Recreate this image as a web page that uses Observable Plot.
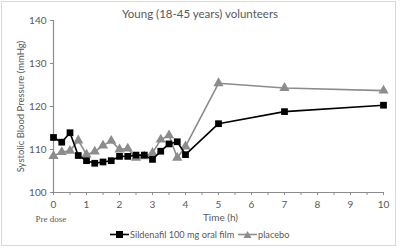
<!DOCTYPE html>
<html><head><meta charset="utf-8">
<script src="https://cdn.jsdelivr.net/npm/d3@7"></script>
<script src="https://cdn.jsdelivr.net/npm/@observablehq/plot@0.6"></script>
<style>
html,body{margin:0;padding:0;background:#fff;}
#wrap{position:relative;width:400px;height:249px;overflow:hidden;font-family:Lato,"Noto Sans",sans-serif;color:#595959;}
#frame{position:absolute;left:1px;top:1px;width:395px;height:245px;border:1px solid #d9d9d9;box-sizing:border-box;}
#title{position:absolute;left:0;width:400px;top:7px;text-align:center;font-size:11.5px;}
#chart{position:absolute;left:0;top:0;}
#legend{position:absolute;top:228px;left:0;width:400px;font-size:9.2px;}
.item{position:absolute;display:flex;align-items:center;white-space:nowrap;}
</style></head>
<body><div id="wrap"><div id="frame"></div><div id="chart"></div><div id="title">Young (18-45 years) volunteers</div><div id="legend"></div></div>
<script>
const time = [0,0.25,0.5,0.75,1,1.25,1.5,1.75,2,2.25,2.5,2.75,3,3.25,3.5,3.75,4,5,7,10];
const sildenafil = [112.8,111.7,113.9,108.6,107.4,106.8,107.1,107.4,108.4,108.4,108.7,108.7,107.7,109.6,111.3,111.8,108.8,116,118.8,120.3];
const placebo = [108.5,109.4,109.7,112.1,108.8,109.5,110.9,112,110,110.2,108.1,108.4,109.2,112.3,113.3,108.1,110.7,125.4,124.3,123.7];
const seriesNames = ["Sildenafil 100 mg oral film","placebo"];
const yTicks = [100,110,120,130,140];

const rows = [];
time.forEach((t,i)=>{rows.push({t,v:sildenafil[i],s:seriesNames[0]});rows.push({t,v:placebo[i],s:seriesNames[1]});});
const sil = rows.filter(d=>d.s===seriesNames[0]);
const pla = rows.filter(d=>d.s===seriesNames[1]);
const axisCol = "#8c8c8c", textCol = "#595959";

const chart = Plot.plot({
  width:400, height:249,
  marginLeft:53, marginRight:17, marginTop:20, marginBottom:57,
  style:{fontFamily:"Lato, 'Noto Sans', sans-serif", fontSize:"10px", color:textCol, background:"transparent"},
  x:{domain:[0,10]},
  y:{domain:[100,140]},
  marks:[
    Plot.ruleY([100],{stroke:axisCol,strokeWidth:1.2}),
    Plot.ruleX([0],{stroke:axisCol,strokeWidth:1.2}),
    Plot.axisX(d3.range(0,10.5,0.5),{tickSize:3,stroke:axisCol,tickFormat:d=>Number.isInteger(d)?d:"",tickPadding:5,fill:textCol,label:null}),
    Plot.axisY(yTicks,{tickSize:3,stroke:axisCol,tickPadding:4,fill:textCol,label:null}),
    Plot.text(["Systolic Blood Pressure (mmHg)"],{frameAnchor:"left",textAnchor:"middle",rotate:-90,dx:-33,fill:textCol,fontSize:9.5}),
    Plot.text(["Time (h)"],{frameAnchor:"bottom",dx:2,dy:28,fill:textCol,fontSize:10}),
    Plot.text(["Pre dose"],{frameAnchor:"bottom-left",dx:-18,dy:29,fill:textCol,fontSize:9,fontFamily:"'Liberation Serif', 'DejaVu Serif', serif"}),
    Plot.line(pla,{x:"t",y:"v",stroke:"#8c8c8c",strokeWidth:1.6}),
    Plot.dot(pla,{x:"t",y:"v",symbol:"triangle",r:3.8,fill:"#8c8c8c",stroke:"none"}),
    Plot.line(sil,{x:"t",y:"v",stroke:"#000",strokeWidth:1.6}),
    Plot.dot(sil,{x:"t",y:"v",symbol:"square",r:3.8,fill:"#000",stroke:"none"})
  ]
});
document.getElementById("chart").appendChild(chart);

const leg = document.getElementById("legend");
const specs = [{name:seriesNames[0],col:"#000",sym:"square",left:110},{name:seriesNames[1],col:"#8c8c8c",sym:"triangle",left:238}];
specs.forEach(s=>{
  const d = document.createElement("div"); d.className="item"; d.style.left=s.left+"px";
  const sym = s.sym==="square" ? `<rect x="6" y="3" width="7" height="7" fill="${s.col}"/>` : `<path d="M9.5,3 L13.5,10 L5.5,10 Z" fill="${s.col}"/>`;
  d.innerHTML = `<svg width="19" height="13"><line x1="0" x2="19" y1="6.5" y2="6.5" stroke="${s.col}" stroke-width="1.6"/>${sym}</svg><span style="margin-left:1px">${s.name}</span>`;
  leg.appendChild(d);
});
</script></body></html>
